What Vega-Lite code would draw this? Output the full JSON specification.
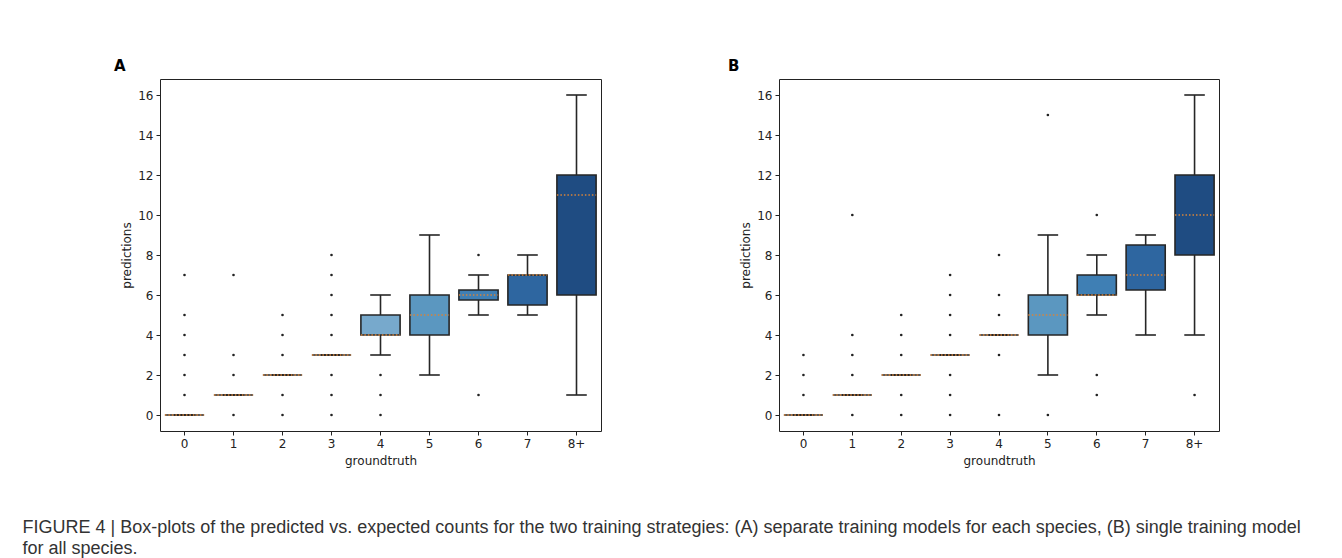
{
  "$schema": "https://vega.github.io/schema/vega-lite/v6.json",
  "padding": {"left": 22, "top": 58, "right": 0, "bottom": 0},
  "background": "white",
  "datasets": {
    "boxes": [
      {"panel": "A", "cat": "0", "lo": 0, "q1": 0, "med": 0, "q3": 0, "hi": 0},
      {"panel": "A", "cat": "1", "lo": 1, "q1": 1, "med": 1, "q3": 1, "hi": 1},
      {"panel": "A", "cat": "2", "lo": 2, "q1": 2, "med": 2, "q3": 2, "hi": 2},
      {"panel": "A", "cat": "3", "lo": 3, "q1": 3, "med": 3, "q3": 3, "hi": 3},
      {"panel": "A", "cat": "4", "lo": 3, "q1": 4, "med": 4, "q3": 5, "hi": 6},
      {"panel": "A", "cat": "5", "lo": 2, "q1": 4, "med": 5, "q3": 6, "hi": 9},
      {"panel": "A", "cat": "6", "lo": 5, "q1": 5.75, "med": 6, "q3": 6.25, "hi": 7},
      {"panel": "A", "cat": "7", "lo": 5, "q1": 5.5, "med": 7, "q3": 7, "hi": 8},
      {"panel": "A", "cat": "8+", "lo": 1, "q1": 6, "med": 11, "q3": 12, "hi": 16},
      {"panel": "B", "cat": "0", "lo": 0, "q1": 0, "med": 0, "q3": 0, "hi": 0},
      {"panel": "B", "cat": "1", "lo": 1, "q1": 1, "med": 1, "q3": 1, "hi": 1},
      {"panel": "B", "cat": "2", "lo": 2, "q1": 2, "med": 2, "q3": 2, "hi": 2},
      {"panel": "B", "cat": "3", "lo": 3, "q1": 3, "med": 3, "q3": 3, "hi": 3},
      {"panel": "B", "cat": "4", "lo": 4, "q1": 4, "med": 4, "q3": 4, "hi": 4},
      {"panel": "B", "cat": "5", "lo": 2, "q1": 4, "med": 5, "q3": 6, "hi": 9},
      {"panel": "B", "cat": "6", "lo": 5, "q1": 6, "med": 6, "q3": 7, "hi": 8},
      {"panel": "B", "cat": "7", "lo": 4, "q1": 6.25, "med": 7, "q3": 8.5, "hi": 9},
      {"panel": "B", "cat": "8+", "lo": 4, "q1": 8, "med": 10, "q3": 12, "hi": 16}
    ],
    "outliers": [
      {"panel": "A", "cat": "0", "value": 1}, {"panel": "A", "cat": "0", "value": 2}, {"panel": "A", "cat": "0", "value": 3},
      {"panel": "A", "cat": "0", "value": 4}, {"panel": "A", "cat": "0", "value": 5}, {"panel": "A", "cat": "0", "value": 7},
      {"panel": "A", "cat": "1", "value": 0}, {"panel": "A", "cat": "1", "value": 2}, {"panel": "A", "cat": "1", "value": 3},
      {"panel": "A", "cat": "1", "value": 7},
      {"panel": "A", "cat": "2", "value": 0}, {"panel": "A", "cat": "2", "value": 1}, {"panel": "A", "cat": "2", "value": 3},
      {"panel": "A", "cat": "2", "value": 4}, {"panel": "A", "cat": "2", "value": 5},
      {"panel": "A", "cat": "3", "value": 0}, {"panel": "A", "cat": "3", "value": 1}, {"panel": "A", "cat": "3", "value": 2},
      {"panel": "A", "cat": "3", "value": 4}, {"panel": "A", "cat": "3", "value": 5}, {"panel": "A", "cat": "3", "value": 6},
      {"panel": "A", "cat": "3", "value": 7}, {"panel": "A", "cat": "3", "value": 8},
      {"panel": "A", "cat": "4", "value": 0}, {"panel": "A", "cat": "4", "value": 1}, {"panel": "A", "cat": "4", "value": 2},
      {"panel": "A", "cat": "6", "value": 1}, {"panel": "A", "cat": "6", "value": 8},
      {"panel": "B", "cat": "0", "value": 1}, {"panel": "B", "cat": "0", "value": 2}, {"panel": "B", "cat": "0", "value": 3},
      {"panel": "B", "cat": "1", "value": 0}, {"panel": "B", "cat": "1", "value": 2}, {"panel": "B", "cat": "1", "value": 3},
      {"panel": "B", "cat": "1", "value": 4}, {"panel": "B", "cat": "1", "value": 10},
      {"panel": "B", "cat": "2", "value": 0}, {"panel": "B", "cat": "2", "value": 1}, {"panel": "B", "cat": "2", "value": 3},
      {"panel": "B", "cat": "2", "value": 4}, {"panel": "B", "cat": "2", "value": 5},
      {"panel": "B", "cat": "3", "value": 0}, {"panel": "B", "cat": "3", "value": 1}, {"panel": "B", "cat": "3", "value": 2},
      {"panel": "B", "cat": "3", "value": 4}, {"panel": "B", "cat": "3", "value": 5}, {"panel": "B", "cat": "3", "value": 6},
      {"panel": "B", "cat": "3", "value": 7},
      {"panel": "B", "cat": "4", "value": 0}, {"panel": "B", "cat": "4", "value": 3}, {"panel": "B", "cat": "4", "value": 5},
      {"panel": "B", "cat": "4", "value": 6}, {"panel": "B", "cat": "4", "value": 8},
      {"panel": "B", "cat": "5", "value": 0}, {"panel": "B", "cat": "5", "value": 15},
      {"panel": "B", "cat": "6", "value": 1}, {"panel": "B", "cat": "6", "value": 2}, {"panel": "B", "cat": "6", "value": 10},
      {"panel": "B", "cat": "8+", "value": 1}
    ]
  },
  "title": {
    "text": ["FIGURE 4 | Box-plots of the predicted vs. expected counts for the two training strategies: (A) separate training models for each species, (B) single training model", "for all species."],
    "orient": "bottom",
    "anchor": "start",
    "frame": "bounds",
    "dx": -91,
    "offset": 52,
    "font": "Liberation Sans",
    "fontSize": 18,
    "fontWeight": "normal",
    "color": "#333333",
    "lineHeight": 21
  },
  "spacing": 125,
  "hconcat": [
    {
      "width": 441, "height": 352,
      "title": {"text": "A", "dx": -46},
      "layer": [
        {
          "data": {"name": "boxes"},
          "transform": [{"filter": "datum.panel === 'A'"}],
          "layer": [
            {"mark": {"type": "rule", "color": "#262626", "strokeWidth": 1.6},
             "encoding": {"x": {"field": "cat", "type": "nominal", "title": "groundtruth"}, "y": {"field": "lo", "type": "quantitative", "title": "predictions", "scale": {"domain": [-0.8, 16.8], "nice": false, "zero": false}}, "y2": {"field": "q1"}}},
            {"mark": {"type": "rule", "color": "#262626", "strokeWidth": 1.6},
             "encoding": {"x": {"field": "cat", "type": "nominal", "title": "groundtruth"}, "y": {"field": "q3", "type": "quantitative", "title": "predictions"}, "y2": {"field": "hi"}}},
            {"mark": {"type": "rule", "color": "#262626", "strokeWidth": 1.6},
             "encoding": {"x": {"field": "cat", "type": "nominal", "bandPosition": 0.29, "title": "groundtruth"}, "x2": {"field": "cat", "bandPosition": 0.71}, "y": {"field": "lo", "type": "quantitative", "title": "predictions"}}},
            {"mark": {"type": "rule", "color": "#262626", "strokeWidth": 1.6},
             "encoding": {"x": {"field": "cat", "type": "nominal", "bandPosition": 0.29, "title": "groundtruth"}, "x2": {"field": "cat", "bandPosition": 0.71}, "y": {"field": "hi", "type": "quantitative", "title": "predictions"}}},
            {"mark": {"type": "bar", "stroke": "#262626", "strokeWidth": 1.6, "width": {"band": 0.8}},
             "encoding": {"x": {"field": "cat", "type": "nominal", "title": "groundtruth"}, "y": {"field": "q1", "type": "quantitative", "title": "predictions"}, "y2": {"field": "q3"},
                          "color": {"field": "cat", "type": "nominal", "legend": null,
                                    "scale": {"domain": ["0","1","2","3","4","5","6","7","8+"], "range": ["#dbe8f4","#c5daee","#a9cce3","#8fbcdb","#77a9cc","#5b97c0","#3f7fb4","#2e66a0","#1f4c82"]}}}},
            {"mark": {"type": "rule", "color": "#d8843a", "strokeWidth": 1.3, "strokeDash": [1.5, 2]},
             "encoding": {"x": {"field": "cat", "type": "nominal", "bandPosition": 0.1, "title": "groundtruth"}, "x2": {"field": "cat", "bandPosition": 0.9}, "y": {"field": "med", "type": "quantitative", "title": "predictions"}}}
          ]
        },
        {
          "data": {"name": "outliers"},
          "transform": [{"filter": "datum.panel === 'A'"}],
          "mark": {"type": "point", "filled": true, "size": 7, "color": "#222222", "opacity": 1},
          "encoding": {"x": {"field": "cat", "type": "nominal", "title": "groundtruth"}, "y": {"field": "value", "type": "quantitative", "title": "predictions"}}
        }
      ],
      "encoding": {}
    },
    {
      "width": 440, "height": 352,
      "title": {"text": "B", "dx": -51},
      "layer": [
        {
          "data": {"name": "boxes"},
          "transform": [{"filter": "datum.panel === 'B'"}],
          "layer": [
            {"mark": {"type": "rule", "color": "#262626", "strokeWidth": 1.6},
             "encoding": {"x": {"field": "cat", "type": "nominal", "title": "groundtruth"}, "y": {"field": "lo", "type": "quantitative", "title": "predictions", "scale": {"domain": [-0.8, 16.8], "nice": false, "zero": false}}, "y2": {"field": "q1"}}},
            {"mark": {"type": "rule", "color": "#262626", "strokeWidth": 1.6},
             "encoding": {"x": {"field": "cat", "type": "nominal", "title": "groundtruth"}, "y": {"field": "q3", "type": "quantitative", "title": "predictions"}, "y2": {"field": "hi"}}},
            {"mark": {"type": "rule", "color": "#262626", "strokeWidth": 1.6},
             "encoding": {"x": {"field": "cat", "type": "nominal", "bandPosition": 0.29, "title": "groundtruth"}, "x2": {"field": "cat", "bandPosition": 0.71}, "y": {"field": "lo", "type": "quantitative", "title": "predictions"}}},
            {"mark": {"type": "rule", "color": "#262626", "strokeWidth": 1.6},
             "encoding": {"x": {"field": "cat", "type": "nominal", "bandPosition": 0.29, "title": "groundtruth"}, "x2": {"field": "cat", "bandPosition": 0.71}, "y": {"field": "hi", "type": "quantitative", "title": "predictions"}}},
            {"mark": {"type": "bar", "stroke": "#262626", "strokeWidth": 1.6, "width": {"band": 0.8}},
             "encoding": {"x": {"field": "cat", "type": "nominal", "title": "groundtruth"}, "y": {"field": "q1", "type": "quantitative", "title": "predictions"}, "y2": {"field": "q3"},
                          "color": {"field": "cat", "type": "nominal", "legend": null,
                                    "scale": {"domain": ["0","1","2","3","4","5","6","7","8+"], "range": ["#dbe8f4","#c5daee","#a9cce3","#8fbcdb","#77a9cc","#5b97c0","#3f7fb4","#2e66a0","#1f4c82"]}}}},
            {"mark": {"type": "rule", "color": "#d8843a", "strokeWidth": 1.3, "strokeDash": [1.5, 2]},
             "encoding": {"x": {"field": "cat", "type": "nominal", "bandPosition": 0.1, "title": "groundtruth"}, "x2": {"field": "cat", "bandPosition": 0.9}, "y": {"field": "med", "type": "quantitative", "title": "predictions"}}}
          ]
        },
        {
          "data": {"name": "outliers"},
          "transform": [{"filter": "datum.panel === 'B'"}],
          "mark": {"type": "point", "filled": true, "size": 7, "color": "#222222", "opacity": 1},
          "encoding": {"x": {"field": "cat", "type": "nominal", "title": "groundtruth"}, "y": {"field": "value", "type": "quantitative", "title": "predictions"}}
        }
      ],
      "encoding": {}
    }
  ],
  "resolve": {"scale": {"x": "independent", "y": "independent"}},
  "config": {
    "font": "DejaVu Sans",
    "view": {"stroke": "#222222", "strokeWidth": 1},
    "title": {"fontSize": 15, "fontWeight": "bold", "font": "DejaVu Sans", "anchor": "start", "color": "#000000", "offset": 5, "frame": "group"},
    "scale": {"bandPaddingInner": 0, "bandPaddingOuter": 0},
    "axisY": {"values": [0, 2, 4, 6, 8, 10, 12, 14, 16]},
    "axisX": {"titlePadding": 6},
    "axis": {
      "grid": false, "domain": false, "tickColor": "#222222", "tickSize": 4, "tickWidth": 1,
      "labelColor": "#222222", "labelFontSize": 12, "labelFont": "DejaVu Sans", "labelPadding": 3,
      "titleColor": "#222222", "titleFontSize": 12, "titleFont": "DejaVu Sans", "titleFontWeight": "normal",
      "labelAngle": 0
    }
  }
}
